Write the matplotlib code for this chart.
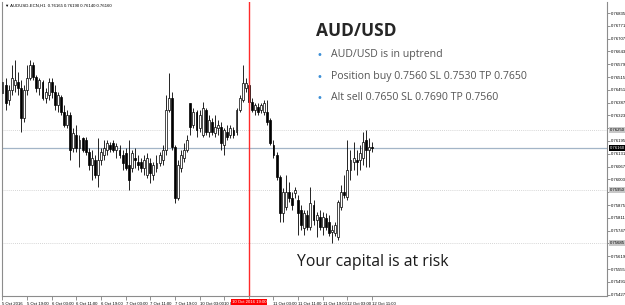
import numpy as np
import matplotlib
matplotlib.use("Agg")
import matplotlib.pyplot as plt
import matplotlib.transforms as mtransforms

# AUD/USD H1 candles, 5 Oct 2016 11:00 -> 12 Oct 2016 11:00
bar_open = [0.76435, 0.76475, 0.76400, 0.76450, 0.76475, 0.76490, 0.76460, 0.76310, 0.76450, 0.76510,
            0.76575, 0.76515, 0.76460, 0.76490, 0.76410, 0.76425, 0.76490, 0.76440, 0.76375, 0.76415,
            0.76340, 0.76275, 0.76325, 0.76160, 0.76225, 0.76160, 0.76210, 0.76200, 0.76140, 0.76075,
            0.76100, 0.76025, 0.76100, 0.76125, 0.76150, 0.76175, 0.76185, 0.76150, 0.76150, 0.76125,
            0.76135, 0.76075, 0.76060, 0.76110, 0.76090, 0.76090, 0.76060, 0.76025, 0.76085, 0.76025,
            0.76060, 0.76085, 0.76100, 0.76150, 0.76350, 0.76410, 0.76165, 0.75910, 0.76060, 0.76110,
            0.76150, 0.76385, 0.76275, 0.76340, 0.76260, 0.76225, 0.76350, 0.76240, 0.76290, 0.76235,
            0.76260, 0.76265, 0.76175, 0.76240, 0.76225, 0.76250, 0.76240, 0.76350, 0.76400, 0.76460,
            0.76475, 0.76390, 0.76350, 0.76365, 0.76350, 0.76340, 0.76340, 0.76300, 0.76175, 0.76125,
            0.76015, 0.75835, 0.75865, 0.75940, 0.75910, 0.75935, 0.75900, 0.75850, 0.75760, 0.75825,
            0.75765, 0.75875, 0.75800, 0.75815, 0.75765, 0.75810, 0.75790, 0.75740, 0.75735, 0.75715,
            0.75865, 0.75940, 0.75915, 0.76050, 0.76090, 0.76100, 0.76100, 0.76110, 0.76200, 0.76150,
            0.76165]
bar_high = [0.76500, 0.76510, 0.76475, 0.76575, 0.76600, 0.76540, 0.76500, 0.76475, 0.76575, 0.76600,
            0.76590, 0.76525, 0.76510, 0.76500, 0.76460, 0.76510, 0.76510, 0.76475, 0.76440, 0.76425,
            0.76375, 0.76350, 0.76340, 0.76260, 0.76275, 0.76225, 0.76215, 0.76215, 0.76160, 0.76150,
            0.76125, 0.76210, 0.76160, 0.76200, 0.76200, 0.76190, 0.76200, 0.76185, 0.76175, 0.76150,
            0.76160, 0.76200, 0.76150, 0.76160, 0.76125, 0.76110, 0.76125, 0.76135, 0.76110, 0.76090,
            0.76125, 0.76140, 0.76175, 0.76425, 0.76535, 0.76440, 0.76175, 0.76100, 0.76150, 0.76185,
            0.76225, 0.76385, 0.76360, 0.76350, 0.76350, 0.76390, 0.76360, 0.76325, 0.76310, 0.76325,
            0.76300, 0.76290, 0.76260, 0.76275, 0.76275, 0.76265, 0.76360, 0.76425, 0.76575, 0.76510,
            0.76490, 0.76410, 0.76385, 0.76385, 0.76385, 0.76400, 0.76400, 0.76310, 0.76200, 0.76140,
            0.76025, 0.75960, 0.76025, 0.75990, 0.75940, 0.75965, 0.75925, 0.75875, 0.75850, 0.75850,
            0.75965, 0.75900, 0.75840, 0.75850, 0.75840, 0.75835, 0.75825, 0.75775, 0.75790, 0.75900,
            0.75975, 0.76025, 0.76200, 0.76150, 0.76190, 0.76150, 0.76175, 0.76240, 0.76250, 0.76210,
            0.76190]
bar_low = [0.76400, 0.76350, 0.76375, 0.76425, 0.76440, 0.76425, 0.76240, 0.76290, 0.76425, 0.76500,
           0.76500, 0.76440, 0.76425, 0.76400, 0.76385, 0.76400, 0.76410, 0.76350, 0.76340, 0.76325,
           0.76265, 0.76260, 0.76100, 0.76140, 0.76140, 0.76065, 0.76140, 0.76125, 0.76050, 0.76000,
           0.76010, 0.75965, 0.76075, 0.76100, 0.76125, 0.76140, 0.76140, 0.76110, 0.76110, 0.76050,
           0.76050, 0.75950, 0.76040, 0.76060, 0.76050, 0.76040, 0.76025, 0.76010, 0.75985, 0.76000,
           0.76040, 0.76070, 0.76075, 0.76125, 0.76340, 0.76150, 0.75885, 0.75900, 0.76040, 0.76090,
           0.76140, 0.76225, 0.76260, 0.76215, 0.76240, 0.76215, 0.76225, 0.76215, 0.76225, 0.76215,
           0.76225, 0.76150, 0.76125, 0.76200, 0.76210, 0.76210, 0.76225, 0.76340, 0.76390, 0.76440,
           0.76375, 0.76340, 0.76325, 0.76325, 0.76335, 0.76325, 0.76275, 0.76175, 0.76110, 0.76000,
           0.75790, 0.75790, 0.75850, 0.75890, 0.75850, 0.75910, 0.75725, 0.75750, 0.75725, 0.75750,
           0.75750, 0.75775, 0.75715, 0.75750, 0.75725, 0.75750, 0.75720, 0.75685, 0.75720, 0.75700,
           0.75850, 0.75910, 0.75900, 0.76000, 0.76050, 0.76025, 0.76050, 0.76075, 0.76065, 0.76065,
           0.76140]
bar_close = [0.76490, 0.76385, 0.76450, 0.76510, 0.76500, 0.76460, 0.76310, 0.76450, 0.76510, 0.76575,
             0.76515, 0.76460, 0.76500, 0.76410, 0.76440, 0.76490, 0.76440, 0.76375, 0.76425, 0.76340,
             0.76275, 0.76325, 0.76150, 0.76235, 0.76160, 0.76200, 0.76150, 0.76140, 0.76075, 0.76110,
             0.76025, 0.76100, 0.76140, 0.76160, 0.76185, 0.76155, 0.76150, 0.76170, 0.76125, 0.76085,
             0.76060, 0.76000, 0.76135, 0.76100, 0.76075, 0.76060, 0.76100, 0.76110, 0.76035, 0.76075,
             0.76085, 0.76125, 0.76150, 0.76350, 0.76410, 0.76165, 0.75910, 0.76075, 0.76125, 0.76150,
             0.76200, 0.76265, 0.76340, 0.76250, 0.76325, 0.76360, 0.76240, 0.76300, 0.76240, 0.76265,
             0.76275, 0.76185, 0.76250, 0.76215, 0.76260, 0.76225, 0.76350, 0.76410, 0.76485, 0.76485,
             0.76390, 0.76350, 0.76375, 0.76340, 0.76375, 0.76385, 0.76290, 0.76185, 0.76125, 0.76015,
             0.75835, 0.75940, 0.75940, 0.75910, 0.75875, 0.75950, 0.75835, 0.75775, 0.75835, 0.75765,
             0.75885, 0.75800, 0.75825, 0.75765, 0.75815, 0.75765, 0.75735, 0.75750, 0.75775, 0.75890,
             0.75940, 0.75925, 0.76050, 0.76100, 0.76110, 0.76090, 0.76135, 0.76190, 0.76150, 0.76165,
             0.76160]

time_labels = ["5 Oct 2016", "5 Oct 19:00", "6 Oct 03:00", "6 Oct 11:00", "6 Oct 19:00",
               "7 Oct 03:00", "7 Oct 11:00", "7 Oct 19:00", "10 Oct 03:00", "10 Oct 11:00",
               "10 Oct 19:00", "11 Oct 03:00", "11 Oct 11:00", "11 Oct 19:00", "12 Oct 03:00",
               "12 Oct 11:00"]
label_bars = list(range(0, 121, 8))
marked_bar = 80
marked_label = "10 Oct 2016 19:00"
bid_price = 0.76160
level_prices = [0.76250, 0.75950, 0.75685]
bullets = ["AUD/USD is in uptrend",
           "Position buy 0.7560 SL 0.7530 TP 0.7650",
           "Alt sell 0.7650 SL 0.7690 TP 0.7560"]

o = np.array(bar_open)
h = np.array(bar_high)
l = np.array(bar_low)
c = np.array(bar_close)
x = np.arange(len(o))
up = c >= o

small = dict(family="Liberation Sans", fontsize=3.1)

fig = plt.figure(figsize=(6.25, 3.05), dpi=100)
ax = fig.add_axes([2 / 625, 9 / 305, 605 / 625, 294 / 305])
ax.set_xlim(-0.16, 196.3)
ax.set_ylim(0.75420, 0.76890)

# levels and bid line
for p in level_prices:
    ax.axhline(p, color="#c8c8c8", lw=0.6, ls=(0, (1, 1.5)), zorder=1)
ax.axhline(bid_price, color="#a3b5c7", lw=0.9, zorder=1)

# candles
ax.vlines(x, l, h, color="black", lw=0.6, zorder=2)
body_bot = np.minimum(o, c)
body_h = np.maximum(np.abs(c - o), 0.00002)
ax.bar(x[up], body_h[up], bottom=body_bot[up], width=0.62,
       facecolor="white", edgecolor="black", linewidth=0.5, zorder=3)
ax.bar(x[~up], body_h[~up], bottom=body_bot[~up], width=0.62,
       facecolor="black", edgecolor="black", linewidth=0.5, zorder=3)

ax.axvline(marked_bar, color="#ff2a2a", lw=1.0, zorder=4)

# axes styling
for s in ["left", "right", "bottom"]:
    ax.spines[s].set_color("#8c8c8c")
    ax.spines[s].set_linewidth(0.8)
ax.spines["top"].set_visible(False)

# price scale; labels under the highlighted boxes are left blank
yt = 0.76835 - 0.00064 * np.arange(23)
ylabs = []
for t in yt:
    hidden = min(abs(t - p) for p in level_prices) < 0.0003 or abs(t - bid_price) < 0.00025
    ylabs.append("" if hidden else f"{t:.5f}")
ax.yaxis.tick_right()
ax.set_yticks(yt)
ax.set_yticklabels(ylabs, **small)
ax.tick_params(axis="y", length=2, width=0.5, color="#666666", pad=1)

xlabs = ["" if b == marked_bar else s for b, s in zip(label_bars, time_labels)]
ax.set_xticks(label_bars)
ax.set_xticklabels(xlabs, ha="left", **small)
ax.tick_params(axis="x", length=3, width=0.5, color="#666666", pad=1)

# highlighted price labels on the right scale
ytr = mtransforms.blended_transform_factory(ax.transAxes, ax.transData)
for p in level_prices:
    ax.text(1.0045, p, f"{p:.5f}", transform=ytr, va="center", ha="left", color="black",
            bbox=dict(facecolor="#c8c8c8", edgecolor="none", pad=0.5), clip_on=False, **small)
ax.text(1.0045, bid_price, f"{bid_price:.5f}", transform=ytr, va="center", ha="left",
        color="white", bbox=dict(facecolor="black", edgecolor="none", pad=0.5), clip_on=False,
        **small)

# red time label under the vertical line
xtr = mtransforms.blended_transform_factory(ax.transData, ax.transAxes)
ax.text(marked_bar, -0.013, marked_label, transform=xtr, ha="center", va="top",
        color="white", bbox=dict(facecolor="#ff0000", edgecolor="none", pad=0.6), clip_on=False,
        zorder=10, **small)

# chart header
fig.text(5 / 625, 1 - 6 / 305,
         "\u25bc AUDUSD-ECN,H1  %.5f %.5f %.5f %.5f" % (o[-1], h[-1], l[-1], c[-1]),
         va="center", ha="left", color="black", **small)

# commentary
fig.text(316 / 625, 1 - 31 / 305, "AUD/USD", fontsize=12.5, weight="bold",
         family="Open Sans", color="#262626", va="center", ha="left")
for i, t in enumerate(bullets):
    yy = 1 - (55 + 21.5 * i) / 305
    fig.text(317 / 625, yy, "\u2022", fontsize=7, color="#3d8fd6", va="center", ha="left")
    fig.text(331 / 625, yy, t, fontsize=7.6, family="Open Sans", color="#555555",
             va="center", ha="left")

fig.text(297 / 625, 1 - 262 / 305, "Your capital is at risk", fontsize=11.3,
         family="Open Sans", color="#1a1a1a", va="center", ha="left")

fig.savefig("out.png", dpi=100)
